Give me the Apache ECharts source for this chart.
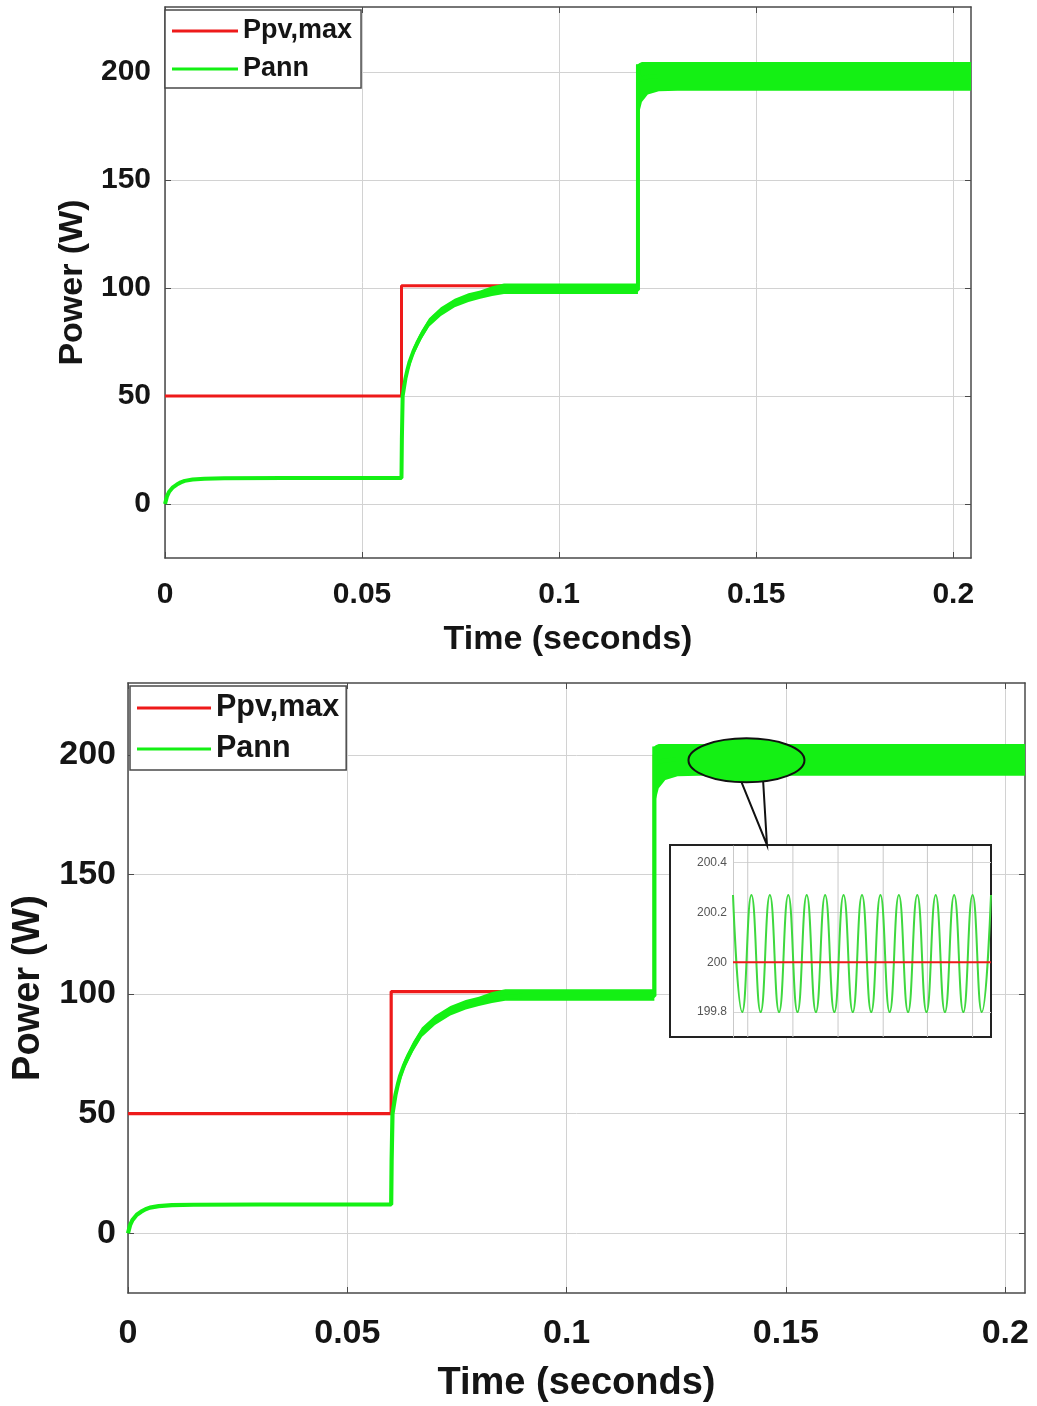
<!DOCTYPE html>
<html><head><meta charset="utf-8">
<script src="https://cdn.jsdelivr.net/npm/echarts@6/dist/echarts.min.js"></script>
<style>html,body{margin:0;padding:0;background:#fff}#c{width:1037px;height:1406px}</style>
</head><body><div id="c"></div>
<script>
// ---------------- data ----------------
const xTicks = [0, 0.05, 0.1, 0.15, 0.2];
const yTicks = [0, 50, 100, 150, 200];
const X_MAX = 0.2045, Y_MIN = -25, Y_MAX = 230;

// Ppv,max (reference maximum PV power)
const pvT = [0, 0.06, 0.06, 0.12, 0.12, 0.2045];
const pvP = [50, 50, 101, 101, 200, 200];

// Pann (ANN-controlled power, mean trace)
const pannT = [0, 0.0005, 0.001, 0.002, 0.003, 0.004, 0.005, 0.007, 0.01, 0.015, 0.03, 0.05, 0.06,
  0.0601, 0.0603, 0.061, 0.0615, 0.062, 0.063, 0.064, 0.065, 0.066, 0.067, 0.0685, 0.07, 0.072,
  0.0735, 0.075, 0.077, 0.08, 0.083, 0.086, 0.09, 0.1, 0.11, 0.12, 0.12, 0.1204, 0.121, 0.122,
  0.1235, 0.125, 0.13, 0.15, 0.18, 0.2045];
const pannP = [0, 3.5, 5.5, 7.7, 9.0, 10.0, 10.7, 11.3, 11.7, 11.9, 12, 12, 12,
  30, 50, 58, 62, 65.5, 70.5, 74.5, 78, 81, 84, 87, 89, 91.5,
  93, 94.3, 95.5, 96.8, 97.8, 98.8, 99.2, 99.2, 99.2, 99.2, 203.5, 196, 197, 197.5,
  197.8, 198, 198, 198, 198, 198];

// Pann ripple envelope (lower / upper)
const bandT    = [0.0603, 0.0615, 0.063, 0.065, 0.067, 0.07, 0.0735, 0.077, 0.08, 0.083, 0.086, 0.1, 0.12,
  0.12, 0.1203, 0.121, 0.1225, 0.1253, 0.13, 0.2045];
const bandLow  = [49, 60, 68.5, 76, 82, 87, 91, 93.5, 95, 96.2, 97.2, 97.2, 97.2,
  176, 181, 186, 189.5, 191, 191.2, 191.2];
const bandHigh = [52, 64, 72.5, 80, 86, 91, 95, 97.5, 98.8, 100.8, 102, 102, 102,
  203.5, 204, 204.5, 204.5, 204.5, 204.5, 204.5];

// zoomed inset (steady state around 200 W): successive peaks and troughs
const insetPann = [200.27, 199.80, 200.27, 199.80, 200.27, 199.80, 200.27, 199.80, 200.27, 199.80,
  200.27, 199.80, 200.27, 199.80, 200.27, 199.80, 200.27, 199.80, 200.27, 199.80,
  200.27, 199.80, 200.27, 199.80, 200.27, 199.80, 200.27, 199.80, 200.27];
const insetPv = [200, 200];
const insetPvX = [0, 28];
const insetYTicks = [199.8, 200, 200.2, 200.4];
const insetXGrid = [1.6, 6.5, 11.4, 16.3, 21.1, 26.0];
const INSET_YMIN = 199.7, INSET_YMAX = 200.467;
const calloutAt = [0.141, 197.7];

// ---------------- layout / style ----------------
const FONT = '"Liberation Sans", Arial, sans-serif';
const RED = '#ee1a1a', GREEN = '#14f014', INSET_GREEN = '#3fd83f';
const AX = '#4a4a4a', GRIDC = '#d2d2d2', TXT = '#151515';
const G_TOP = {left: 165, top: 7, right: 66, height: 551};
const G_BOT = {left: 128, top: 683, right: 12, height: 610};
const INSET_BOX = {x: 670, y: 845, w: 321, h: 192};
const G_INS = {left: 733, top: 846, width: 258, height: 191};

const P = (xs, ys) => xs.map((x, i) => [x, ys[i]]);

function mainX(grid, pos, lab) {
  return {
    type: 'value', gridIndex: grid, position: pos, min: 0, max: X_MAX,
    axisLine: {show: true, onZero: false, lineStyle: {color: AX, width: 1.5}},
    axisTick: {show: true, inside: true, length: 6, customValues: xTicks, lineStyle: {color: AX}},
    axisLabel: lab ? {show: true, customValues: xTicks, fontFamily: FONT, fontWeight: 'bold',
      fontSize: lab.fs, color: TXT, margin: lab.m} : {show: false},
    splitLine: {show: pos === 'bottom', lineStyle: {color: GRIDC, width: 1}},
    name: lab ? 'Time (seconds)' : '', nameLocation: 'middle', nameGap: lab ? lab.ng : 0,
    nameTextStyle: lab ? {fontFamily: FONT, fontWeight: 'bold', fontSize: lab.nfs, color: TXT} : {}
  };
}
function mainY(grid, pos, lab) {
  return {
    type: 'value', gridIndex: grid, position: pos, min: Y_MIN, max: Y_MAX,
    axisLine: {show: true, onZero: false, lineStyle: {color: AX, width: 1.5}},
    axisTick: {show: true, inside: true, length: 6, customValues: yTicks, lineStyle: {color: AX}},
    axisLabel: lab ? {show: true, customValues: yTicks, fontFamily: FONT, fontWeight: 'bold',
      fontSize: lab.fs, color: TXT, margin: lab.m} : {show: false},
    splitLine: {show: pos === 'left', lineStyle: {color: GRIDC, width: 1}},
    name: lab ? 'Power (W)' : '', nameLocation: 'middle', nameGap: lab ? lab.ng : 0,
    nameTextStyle: lab ? {fontFamily: FONT, fontWeight: 'bold', fontSize: lab.nfs, color: TXT} : {}
  };
}
function bandSeries(xi, yi) {
  return {
    type: 'custom', name: 'Pann ripple', xAxisIndex: xi, yAxisIndex: yi, z: 3, clip: true, silent: true,
    data: bandT.map((t, i) => [t, bandLow[i], bandHigh[i]]),
    encode: {x: 0, y: [1, 2]},
    renderItem: function (params, api) {
      if (params.dataIndex !== 0) return null;
      const pts = [];
      for (let i = 0; i < bandT.length; i++) pts.push(api.coord([bandT[i], bandHigh[i]]));
      for (let i = bandT.length - 1; i >= 0; i--) pts.push(api.coord([bandT[i], bandLow[i]]));
      return {type: 'polygon', shape: {points: pts}, style: {fill: GREEN}};
    }
  };
}
function lineSeries(name, data, color, w, xi, yi, z) {
  return {type: 'line', name: name, data: data, xAxisIndex: xi, yAxisIndex: yi, color: color,
    showSymbol: false, symbol: 'none', z: z, animation: false,
    lineStyle: {color: color, width: w}};
}
function legend(left, top, fs, lh, gap, iw, pad) {
  return {
    orient: 'vertical', left: left, top: top, icon: 'rect', itemWidth: iw, itemHeight: 3, itemGap: gap,
    padding: pad, backgroundColor: '#fff', borderColor: AX, borderWidth: 1.5, borderRadius: 0,
    textStyle: {fontFamily: FONT, fontWeight: 'bold', fontSize: fs, lineHeight: lh, color: TXT},
    data: [{name: 'Ppv,max', itemStyle: {color: RED}}, {name: 'Pann', itemStyle: {color: GREEN}}],
    selectedMode: false
  };
}

const insetGreen = lineSeries('Pann', insetPann.map((v, i) => [i, v]), INSET_GREEN, 2, 4, 4, 11);
insetGreen.smooth = 0.5;

const insetVGrid = {
  type: 'custom', name: 'inset grid', xAxisIndex: 4, yAxisIndex: 4, z: 10, silent: true,
  data: insetXGrid.map(v => [v, INSET_YMIN]), encode: {x: 0, y: 1},
  renderItem: function (params, api) {
    const a = api.coord([api.value(0), INSET_YMIN]);
    const b = api.coord([api.value(0), INSET_YMAX]);
    return {type: 'line', shape: {x1: a[0], y1: a[1], x2: b[0], y2: b[1]},
      style: {stroke: '#c9c9c9', lineWidth: 1}};
  }
};

const option = {
  animation: false,
  backgroundColor: '#fff',
  grid: [
    Object.assign({containLabel: false}, G_TOP),
    Object.assign({containLabel: false}, G_BOT),
    Object.assign({containLabel: false}, G_INS)
  ],
  legend: [
    legend(165, 10, 27, 30, 8, 66, [6, 9, 4, 7]),
    legend(130, 686, 30.5, 34, 7, 74, [5, 7, 4, 7])
  ],
  xAxis: [
    mainX(0, 'bottom', {fs: 30, m: 22, nfs: 34, ng: 65}),
    mainX(0, 'top', null),
    mainX(1, 'bottom', {fs: 34, m: 24, nfs: 38, ng: 72}),
    mainX(1, 'top', null),
    {type: 'value', gridIndex: 2, min: 0, max: 28, z: 10,
      axisLine: {show: false}, axisTick: {show: false},
      axisLabel: {show: false},
      splitLine: {show: false}}
  ],
  yAxis: [
    mainY(0, 'left', {fs: 30, m: 14, nfs: 34, ng: 74}),
    mainY(0, 'right', null),
    mainY(1, 'left', {fs: 34, m: 12, nfs: 38, ng: 80}),
    mainY(1, 'right', null),
    {type: 'value', gridIndex: 2, min: INSET_YMIN, max: INSET_YMAX, z: 10,
      axisLine: {show: true, lineStyle: {color: '#c9c9c9', width: 1}}, axisTick: {show: false, customValues: insetYTicks},
      axisLabel: {show: true, customValues: insetYTicks, fontFamily: FONT, fontSize: 12, color: '#555', margin: 6},
      splitLine: {show: true, lineStyle: {color: '#d6d6d6', width: 1}}}
  ],
  series: [
    lineSeries('Ppv,max', P(pvT, pvP), RED, 3, 0, 0, 2),
    bandSeries(0, 0),
    lineSeries('Pann', P(pannT, pannP), GREEN, 4, 0, 0, 4),
    lineSeries('Ppv,max', P(pvT, pvP), RED, 3.2, 2, 2, 2),
    bandSeries(2, 2),
    lineSeries('Pann', P(pannT, pannP), GREEN, 4.2, 2, 2, 4),
    insetVGrid,
    insetGreen,
    lineSeries('Ppv,max', P(insetPvX, insetPv), RED, 2, 4, 4, 12)
  ]
};

const chart = echarts.init(document.getElementById('c'), null, {renderer: 'canvas'});
chart.setOption(option);

const c = chart.convertToPixel({seriesIndex: 5}, calloutAt);
const cx = c[0], cy = c[1];
chart.setOption({
  graphic: [
    {type: 'rect', z: 5, silent: true,
      shape: {x: INSET_BOX.x, y: INSET_BOX.y, width: INSET_BOX.w, height: INSET_BOX.h},
      style: {fill: '#fff', stroke: '#222', lineWidth: 2}},
    {type: 'polyline', z: 19, silent: true,
      shape: {points: [[cx - 6.5, cy + 18], [cx + 20.5, INSET_BOX.y], [cx + 16.5, cy + 18]]},
      style: {fill: null, stroke: '#111', lineWidth: 2}},
    {type: 'ellipse', z: 20, silent: true,
      shape: {cx: cx, cy: cy, rx: 58, ry: 22},
      style: {fill: GREEN, stroke: '#111', lineWidth: 2}}
  ]
});
</script>
</body></html>
